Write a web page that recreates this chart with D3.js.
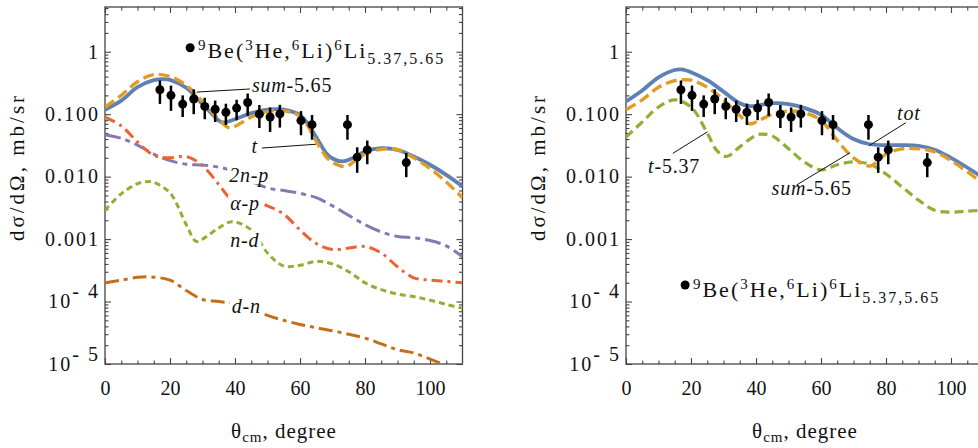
<!DOCTYPE html>
<html><head><meta charset="utf-8">
<script src="https://cdn.jsdelivr.net/npm/d3@7"></script>
<style>
body{margin:0;background:#fff}
svg text{font-family:"Liberation Serif","Times New Roman",serif !important;fill:#111}
</style></head><body><svg id="c" width="978" height="448" font-family="Liberation Serif"></svg>
<script>
// ---------- data ----------
const thetaExp = [16.9,20.3,23.9,27.3,30.7,33.9,37.2,40.5,43.9,47.5,50.8,53.8,60.3,63.7,74.6,77.6,80.7,92.7];
const sigmaExp = [0.246,0.20,0.145,0.175,0.133,0.12,0.107,0.125,0.154,0.100,0.090,0.101,0.079,0.068,0.068,0.0205,0.0268,0.0168];
const errExp   = [0.10,0.087,0.055,0.075,0.05,0.045,0.04,0.045,0.06,0.04,0.038,0.04,0.033,0.029,0.029,0.009,0.011,0.007];

// left panel
const thL_sum = [0,5,10,15,18,20,25,30,33,36,40,45,50,53,55,58,60,62,64,66,68,70,73,76,80,85,90,95,100,105,110];
const L_sum   = [0.118,0.165,0.27,0.35,0.365,0.355,0.265,0.145,0.1,0.074,0.083,0.104,0.118,0.12,0.118,0.108,0.097,0.075,0.052,0.035,0.024,0.0195,0.0175,0.0195,0.0252,0.0286,0.0268,0.021,0.0155,0.0107,0.007];
const thL_t   = [0,5,10,15,20,25,30,35,38,40,45,50,55,58,60,62,64,66,68,70,74,77,80,85,90,95,100,105,110];
const L_t     = [0.13,0.2,0.33,0.43,0.40,0.29,0.16,0.082,0.061,0.064,0.09,0.11,0.113,0.104,0.093,0.07,0.046,0.03,0.021,0.017,0.0145,0.018,0.023,0.0275,0.027,0.02,0.0135,0.0082,0.0046];
const thL_ap  = [0,5,10,15,20,25,30,35,38,40,45,50,55,60,65,70,75,80,85,90,95,100,105,110];
const L_ap    = [0.09,0.065,0.036,0.022,0.02,0.021,0.015,0.0075,0.0048,0.0043,0.0041,0.0034,0.0025,0.0014,0.00085,0.00068,0.00072,0.00076,0.0006,0.00036,0.00024,0.00022,0.00021,0.0002];
const thL_2np = [0,5,10,15,20,25,30,35,40,45,50,55,60,65,70,75,80,85,90,95,100,105,110];
const L_2np   = [0.047,0.041,0.032,0.023,0.018,0.0158,0.0153,0.0142,0.012,0.0085,0.0066,0.006,0.0054,0.0046,0.0034,0.0024,0.0017,0.0013,0.0011,0.00105,0.00095,0.00078,0.00052];
const thL_nd  = [0,5,10,13,15,20,25,28,30,35,39,45,50,55,60,65,70,75,80,85,90,95,100,105,110];
const L_nd    = [0.0029,0.0053,0.0077,0.0083,0.0081,0.0055,0.0017,0.00092,0.001,0.0015,0.0019,0.0014,0.0006,0.00037,0.00038,0.00044,0.0004,0.0003,0.0002,0.000155,0.000132,0.00012,0.000105,0.00009,0.000078];
const thL_dn  = [0,5,10,13,20,25,30,35,40,45,50,55,60,65,70,75,80,85,90,95,100,105,110];
const L_dn    = [0.0002,0.00022,0.000245,0.00025,0.00022,0.00015,0.000108,0.0001,0.000092,0.000075,0.00006,0.00005,0.000043,0.000038,0.000034,0.00003,0.000026,0.000021,0.000017,0.000015,0.000012,0.0000095,0.0000075];

// right panel
const thR_tot = [0,5,10,15,17,20,25,30,35,38,40,45,50,55,60,65,70,75,80,85,90,95,100,105,110];
const R_tot   = [0.16,0.24,0.39,0.51,0.52,0.47,0.35,0.23,0.15,0.135,0.136,0.15,0.145,0.125,0.098,0.06,0.04,0.033,0.032,0.032,0.031,0.027,0.02,0.014,0.0095];
const thR_sum = [0,5,10,15,18,20,25,30,35,38,40,45,50,55,60,65,70,75,80,85,90,95,100,105,110];
const R_sum   = [0.118,0.17,0.27,0.345,0.355,0.35,0.27,0.17,0.095,0.07,0.075,0.1,0.112,0.105,0.08,0.038,0.02,0.0148,0.023,0.028,0.028,0.025,0.018,0.012,0.0075];
const thR_t   = [0,5,10,15,20,25,28,31,35,40,42,45,50,55,60,65,70,75,80,85,90,95,100,105,110];
const R_t     = [0.043,0.075,0.13,0.17,0.13,0.05,0.026,0.021,0.03,0.046,0.048,0.045,0.028,0.017,0.0128,0.0155,0.0172,0.0158,0.011,0.0068,0.0042,0.0029,0.0027,0.0028,0.0029];

// axes
const xMajor = [0,20,40,60,80,100];
const xMinor = [5,10,15,25,30,35,45,50,55,65,70,75,85,90,95,105];
const yMajor = [1e-5,1e-4,1e-3,1e-2,1e-1,1];
const yMajorLabels = ["10^- 5","10^- 4","0.001","0.010","0.100","1"];
const yDomain = [1e-5, 5.2];
const xDomain = [0, 110];

const C = {blue:"#5E81B5", orange:"#E19C24", green:"#8FB032", red:"#EB6235", purple:"#8778B3", brown:"#C56E1A"};
const FONT = '"Liberation Serif","Times New Roman",serif';

// ---------- drawing ----------
const svg = d3.select("#c");
const plotTop = 7, plotBot = 364, plotW = 357.5;

function txt(sel){ return sel.style("font-family", FONT).attr("fill","#111"); }

function panel(id, x0, series, notes, legendPos, rightAxis){
  const x = d3.scaleLinear().domain(xDomain).range([x0, x0+plotW]);
  const y = d3.scaleLog().domain(yDomain).range([plotBot, plotTop]);
  const g = svg.append("g");
  svg.append("defs").append("clipPath").attr("id", id)
    .append("rect").attr("x", x0).attr("y", plotTop).attr("width", plotW).attr("height", plotBot-plotTop);

  const yMinor = [];
  yMajor.forEach(d => { for (let k=2;k<=9;k++){ const v=d*k; if (v<yDomain[1]) yMinor.push(v);} });
  const axCol = "#444";
  const styleAx = s => { s.attr("font-family",null); s.select(".domain").remove(); s.selectAll("line").attr("stroke", axCol).attr("stroke-width",1.1); };
  g.append("g").attr("transform",`translate(0,${plotBot})`)
    .call(d3.axisBottom(x).tickValues(xMajor).tickSizeInner(-6).tickSizeOuter(0).tickPadding(17).tickFormat(d=>d))
    .call(styleAx).call(s=>txt(s.selectAll("text")).attr("font-size",20));
  g.append("g").attr("transform",`translate(0,${plotBot})`)
    .call(d3.axisBottom(x).tickValues(xMinor).tickSize(-3.5).tickFormat("")).call(styleAx);
  g.append("g").attr("transform",`translate(0,${plotTop})`)
    .call(d3.axisTop(x).tickValues(xMajor).tickSize(-6).tickFormat("")).call(styleAx);
  g.append("g").attr("transform",`translate(0,${plotTop})`)
    .call(d3.axisTop(x).tickValues(xMinor).tickSize(-3.5).tickFormat("")).call(styleAx);
  g.append("g").attr("transform",`translate(${x0},0)`)
    .call(d3.axisLeft(y).tickValues(yMajor).tickSize(-6).tickFormat("")).call(styleAx);
  g.append("g").attr("transform",`translate(${x0},0)`)
    .call(d3.axisLeft(y).tickValues(yMinor).tickSize(-3.5).tickFormat("")).call(styleAx);
  if (rightAxis){
    g.append("g").attr("transform",`translate(${x0+plotW},0)`)
      .call(d3.axisRight(y).tickValues(yMajor).tickSize(-6).tickFormat("")).call(styleAx);
    g.append("g").attr("transform",`translate(${x0+plotW},0)`)
      .call(d3.axisRight(y).tickValues(yMinor).tickSize(-3.5).tickFormat("")).call(styleAx);
  }
  g.append("rect").attr("x",x0).attr("y",plotTop).attr("width",plotW).attr("height",plotBot-plotTop)
    .attr("fill","none").attr("stroke",axCol).attr("stroke-width",1.3);

  // y tick labels
  yMajor.forEach((v,i)=>{
    const lab = yMajorLabels[i];
    const t = txt(g.append("text")).attr("x", x0-5).attr("y", y(v)).attr("dy","0.34em")
      .attr("text-anchor","end").attr("font-size",20).attr("letter-spacing","2px");
    if (lab.includes("^")){
      const [b,e] = lab.split("^");
      t.append("tspan").text(b);
      t.append("tspan").attr("dy",-10).style("white-space","pre").text(e);
    } else t.text(lab);
  });

  // axis titles
  const xt = txt(g.append("text")).attr("x", x0+179).attr("y", 438).attr("text-anchor","middle").attr("font-size",21).attr("letter-spacing","1px");
  xt.append("tspan").text("θ");
  xt.append("tspan").attr("font-size",15).attr("dy",4).text("cm");
  xt.append("tspan").attr("dy",-4).text(", degree");
  txt(g.append("text")).attr("transform",`translate(${x0-81},167) rotate(-90)`).attr("text-anchor","middle")
    .attr("font-size",21).attr("letter-spacing","3px").text("dσ/dΩ, mb/sr");

  // curves
  const cg = g.append("g").attr("clip-path",`url(#${id})`);
  series.forEach(s=>{
    const line = d3.line().x((d,i)=>x(s.th[i])).y(d=>y(d)).curve(d3.curveCatmullRom.alpha(0.5));
    cg.append("path").attr("d", line(s.v)).attr("fill","none").attr("stroke",s.c)
      .attr("stroke-width",s.w).attr("stroke-dasharray",s.dash||null);
  });

  // labels
  notes.forEach(n=>{
    if (n.line){
      g.append("line").attr("x1",x(n.line[0])).attr("y1",y(n.line[1])).attr("x2",x(n.line[2])).attr("y2",y(n.line[3]))
        .attr("stroke","#111").attr("stroke-width",1);
    }
    const t = txt(g.append("text")).attr("x",x(n.at[0])).attr("y",y(n.at[1])).attr("font-size",20).attr("letter-spacing","0.8px");
    n.parts.forEach(p=>{ t.append("tspan").attr("font-style",p[1]?"italic":"normal").text(p[0]); });
    if (n.bg){
      const bb = t.node().getBBox();
      g.insert("rect", () => t.node()).attr("x",bb.x-2).attr("y",bb.y+3).attr("width",bb.width+4).attr("height",bb.height-6).attr("fill","#fff");
    }
  });

  // data
  const dg = g.append("g");
  thetaExp.forEach((th,i)=>{
    dg.append("line").attr("x1",x(th)).attr("x2",x(th))
      .attr("y1",y(sigmaExp[i]+errExp[i])).attr("y2",y(sigmaExp[i]-errExp[i]))
      .attr("stroke","#000").attr("stroke-width",2.5);
    dg.append("circle").attr("cx",x(th)).attr("cy",y(sigmaExp[i])).attr("r",4.5).attr("fill","#000");
  });

  // legend
  g.append("circle").attr("cx",x(legendPos.dot[0])).attr("cy",y(legendPos.dot[1])).attr("r",4.5).attr("fill","#000");
  const lt = txt(g.append("text")).attr("x",x(legendPos.txt[0])).attr("y",y(legendPos.txt[1])).attr("font-size",22).attr("letter-spacing","2px");
  const sup = s => lt.append("tspan").attr("font-size",15).attr("dy",-8).text(s);
  const nrm = s => lt.append("tspan").attr("dy",8).text(s);
  sup("9"); nrm("Be("); sup("3"); nrm("He,"); sup("6"); nrm("Li)"); sup("6"); nrm("Li");
  lt.append("tspan").attr("font-size",16).attr("dy",6).text("5.37,5.65");
}

panel("clipL", 105, [
  {th:thL_dn, v:L_dn, c:C.brown, w:3, dash:"14,5,4,5"},
  {th:thL_nd, v:L_nd, c:C.green, w:3, dash:"6,4"},
  {th:thL_2np, v:L_2np, c:C.purple, w:3, dash:"16,5,5,5"},
  {th:thL_ap, v:L_ap, c:C.red, w:3, dash:"11,5,3,5"},
  {th:thL_sum, v:L_sum, c:C.blue, w:3.8},
  {th:thL_t, v:L_t, c:C.orange, w:3.4, dash:"11,5"}
], [
  {at:[45.2,0.226], parts:[["sum",1],["-5.65",0]], line:[28.3,0.226,44.6,0.253]},
  {at:[45.1,0.0239], parts:[["t",1]], line:[48.3,0.0287,64.9,0.033]},
  {at:[38.2,0.0082], parts:[["2n-p",1]], bg:1},
  {at:[38.5,0.00292], parts:[["α-p",1]], bg:1},
  {at:[38.5,0.000755], parts:[["n-d",1]], bg:1},
  {at:[39,0.0000649], parts:[["d-n",1]], bg:1}
], {dot:[26.2,1.16], txt:[28.6,0.783]}, true);

panel("clipR", 626, [
  {th:thR_t, v:R_t, c:C.green, w:3.2, dash:"9,5"},
  {th:thR_tot, v:R_tot, c:C.blue, w:3.8},
  {th:thR_sum, v:R_sum, c:C.orange, w:3.4, dash:"11,5"}
], [
  {at:[6.8,0.0113], parts:[["t",1],["-5.37",0]], line:[14.4,0.0236,25.1,0.0523]},
  {at:[83.4,0.0805], parts:[["tot",1]], line:[74.8,0.0313,86.1,0.073]},
  {at:[44.8,0.00508], parts:[["sum",1],["-5.65",0]], line:[52.5,0.00735,68.9,0.0241]}
], {dot:[18.2,0.000184], txt:[20.6,0.00012]}, false);
</script></body></html>
